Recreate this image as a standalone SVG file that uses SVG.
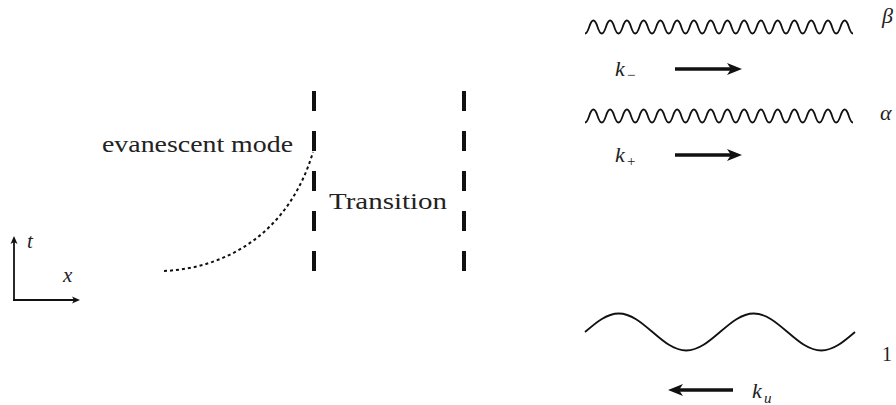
<svg xmlns="http://www.w3.org/2000/svg" xmlns:xlink="http://www.w3.org/1999/xlink" width="896" height="405" viewBox="0 0 896 405">
<style>
.wave{fill:none;stroke:#111;stroke-width:1.8;}
.karrow{stroke:#111;stroke-width:3.6;fill:none;}
.axis{stroke:#111;stroke-width:1.8;fill:none;}
.barrier{stroke:#111;stroke-width:4;stroke-dasharray:20 20;fill:none;}
.dotted{stroke:#111;stroke-width:2;stroke-dasharray:3 3;fill:none;}
text{fill:#222;font-family:"Liberation Serif","DejaVu Serif",serif;}
.it{font-style:italic;}
</style>
<defs>
<marker id="ah" viewBox="-5 -7 18 14" refX="0" refY="0" markerWidth="18" markerHeight="14" markerUnits="userSpaceOnUse" orient="auto">
<path d="M11,0 L-4,-6 L0,0 L-4,6 Z" fill="#111"/>
</marker>
<marker id="ahs" viewBox="-3 -5 10 10" refX="0" refY="0" markerWidth="10" markerHeight="10" markerUnits="userSpaceOnUse" orient="auto">
<path d="M6,0 L-2,-3.5 L0,0 L-2,3.5 Z" fill="#111"/>
</marker>
<path id="fastwave" class="wave" d="M585,6.5 Q587.09,6.5 589.19,0 Q593.38,-13 597.56,0 T605.94,0 T614.31,0 T622.69,0 T631.06,0 T639.44,0 T647.81,0 T656.19,0 T664.56,0 T672.94,0 T681.31,0 T689.69,0 T698.06,0 T706.44,0 T714.81,0 T723.19,0 T731.56,0 T739.94,0 T748.31,0 T756.69,0 T765.06,0 T773.44,0 T781.81,0 T790.19,0 T798.56,0 T806.94,0 T815.31,0 T823.69,0 T832.06,0 T840.44,0 T848.81,0 Q850.91,6.5 853,6.5"/>
</defs>

<g id="axes">
<line class="axis" x1="14" y1="301" x2="14" y2="242" marker-end="url(#ahs)"/>
<line class="axis" x1="13" y1="300" x2="74" y2="300" marker-end="url(#ahs)"/>
<text class="it" x="27" y="248" font-size="21">t</text>
<text class="it" x="63" y="282" font-size="21">x</text>
</g>

<g id="evanescent">
<text x="102" y="152" font-size="23" textLength="191" lengthAdjust="spacingAndGlyphs">evanescent mode</text>
</g>

<g id="transition">
<line class="barrier" x1="314" y1="91" x2="314" y2="271"/>
<line class="barrier" x1="464" y1="91" x2="464" y2="271"/>
<text x="329" y="209" font-size="24" textLength="118" lengthAdjust="spacingAndGlyphs">Transition</text>
</g>

<g id="mode-beta">
<use xlink:href="#fastwave" transform="translate(0,27)"/>
<text class="it" x="882" y="23" font-size="22">β</text>
<text class="it" x="615" y="76" font-size="22">k</text>
<text x="627" y="80" font-size="15">−</text>
</g>

<g id="mode-alpha">
<use xlink:href="#fastwave" transform="translate(0,116)"/>
<text class="it" x="880" y="120" font-size="22">α</text>
<text class="it" x="615" y="162" font-size="22">k</text>
<text x="627" y="166" font-size="15">+</text>
</g>

<g id="mode-one">
<path class="wave" d="M585,332 C596.01,322.52 606.54,313.5 618.75,313.5 S641.49,322.52 652.5,332 S674.04,350.5 686.25,350.5 S708.99,341.48 720,332 S741.54,313.5 753.75,313.5 S776.49,322.52 787.5,332 S809.04,350.5 821.25,350.5 S843.99,341.48 855,332"/>
<text x="882" y="361" font-size="20">1</text>
<text class="it" x="752" y="398" font-size="22">k</text>
<text class="it" x="764" y="403" font-size="15">u</text>
</g>

<g id="connectors">
<path class="dotted" d="M164,271 C230,268 290,230 313,152"/>
<line class="karrow" x1="675" y1="69" x2="731" y2="69" marker-end="url(#ah)"/>
<line class="karrow" x1="675" y1="155" x2="731" y2="155" marker-end="url(#ah)"/>
<line class="karrow" x1="733" y1="390" x2="679" y2="390" marker-end="url(#ah)"/>
</g>
</svg>
